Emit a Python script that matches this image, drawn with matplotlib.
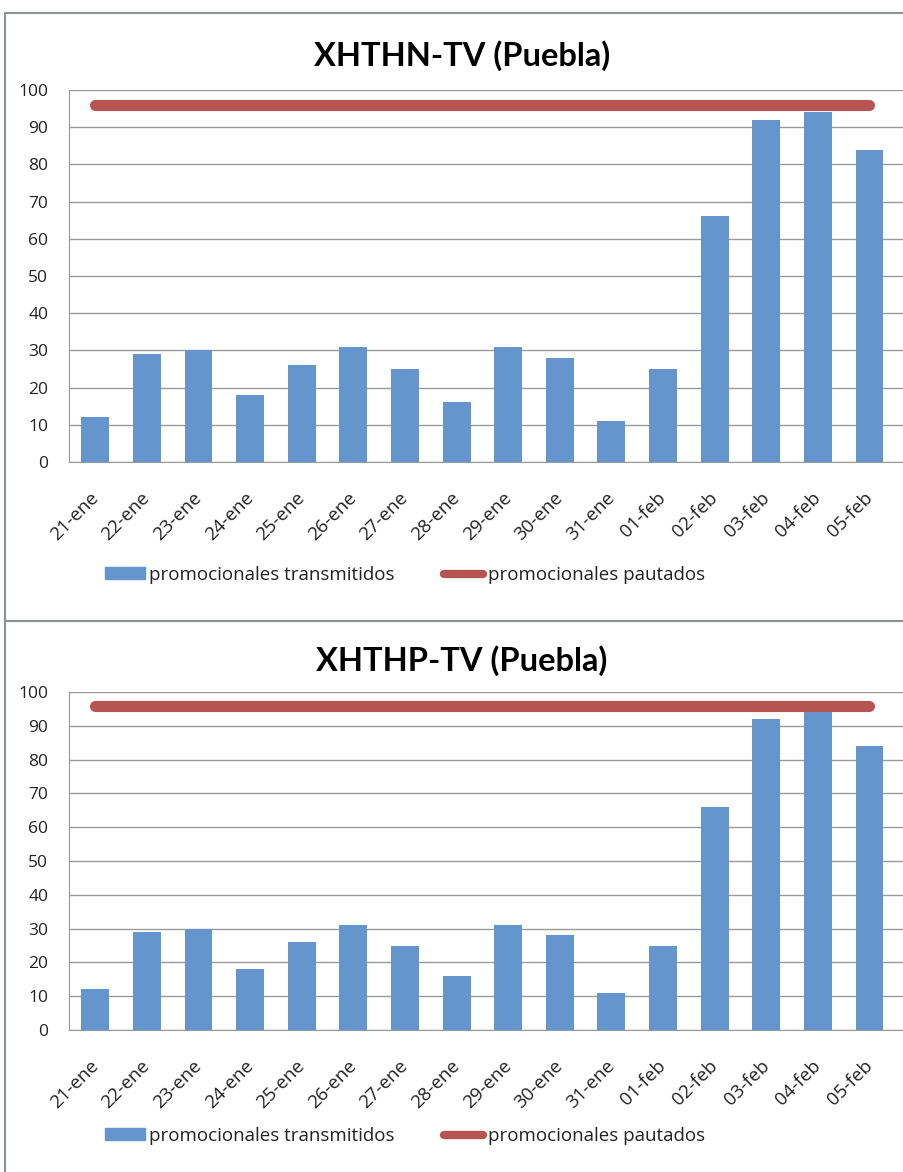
import matplotlib.pyplot as plt
import matplotlib.transforms as mtransforms
from matplotlib.patches import Rectangle
from matplotlib.lines import Line2D

plt.rcParams['font.family'] = ['Open Sans', 'DejaVu Sans']

dias = ['21-ene', '22-ene', '23-ene', '24-ene', '25-ene', '26-ene', '27-ene', '28-ene',
        '29-ene', '30-ene', '31-ene', '01-feb', '02-feb', '03-feb', '04-feb', '05-feb']
transmitidos_xhthn = [12, 29, 30, 18, 26, 31, 25, 16, 31, 28, 11, 25, 66, 92, 94, 84]
transmitidos_xhthp = [12, 29, 30, 18, 26, 31, 25, 16, 31, 28, 11, 25, 66, 92, 94, 84]
pautados = [96] * len(dias)
titulos = ['XHTHN-TV (Puebla)', 'XHTHP-TV (Puebla)']

azul = '#6495CD'
rojo = '#B65451'
gris = '#9A9A9A'

W, H = 904, 1172
fig = plt.figure(figsize=(W / 100, H / 100), dpi=100)


def fx(px):
    return px / W


def fy(py):
    return 1 - py / H


# marcos grises de cada grafico
for top, bot in [(13, 621), (621, 1180)]:
    fig.patches.append(Rectangle((fx(5), fy(bot)), fx(910) - fx(5), fy(top) - fy(bot),
                                 transform=fig.transFigure, fill=False,
                                 edgecolor='#8A9490', linewidth=1.5, zorder=0))

# (y de 100, y de 0, y titulo, y leyenda) en pixeles
paneles = [(90, 462, 56, 575), (692, 1030, 661, 1136)]

for k, (serie, titulo, (y100, y0, yt, yl)) in enumerate(
        zip([transmitidos_xhthn, transmitidos_xhthp], titulos, paneles)):
    ax = fig.add_axes([fx(69), fy(y0), fx(903) - fx(69), fy(y100) - fy(y0)])
    x = range(len(dias))
    ax.bar(x, serie, width=0.54, color=azul, zorder=2)
    ax.plot(x, pautados, color=rojo, linewidth=8, solid_capstyle='round', zorder=3)
    ax.set_ylim(0, 100)
    ax.set_xlim(-0.51, 15.65)
    ax.set_yticks(range(0, 101, 10))
    ax.yaxis.grid(True, color=gris, linewidth=1)
    ax.set_axisbelow(True)
    for s in ['top', 'right']:
        ax.spines[s].set_visible(False)
    for s in ['left', 'bottom']:
        ax.spines[s].set_color(gris)
    ax.set_xticks(list(x))
    ax.set_xticklabels(dias, rotation=45, ha='right', rotation_mode='anchor')
    ax.tick_params(axis='x', length=0, pad=19, labelsize=13.5, labelcolor='#222222')
    ax.tick_params(axis='y', length=0, pad=15, labelsize=12.5, labelcolor='#222222')
    desplaza = mtransforms.ScaledTranslation(-6 / 100, 0, fig.dpi_scale_trans)
    for lab in ax.get_xticklabels():
        lab.set_transform(lab.get_transform() + desplaza)

    fig.text(0.511, fy(yt), titulo, ha='center', va='center', fontsize=23.5,
             fontweight='bold', family=['Lato', 'DejaVu Sans'])

    handles = [Rectangle((0, 0), 1, 1, color=azul),
               Line2D([0], [0], color=rojo, linewidth=6, solid_capstyle='round')]
    fig.legend(handles, ['promocionales transmitidos', 'promocionales pautados'],
               loc='center', bbox_to_anchor=(fx(405), fy(yl)), ncol=2, frameon=False,
               fontsize=13.5, handlelength=2.1, handleheight=0.6, handletextpad=0.25,
               columnspacing=2.6, labelcolor='#222222')

fig.savefig('out.png', dpi=100)
